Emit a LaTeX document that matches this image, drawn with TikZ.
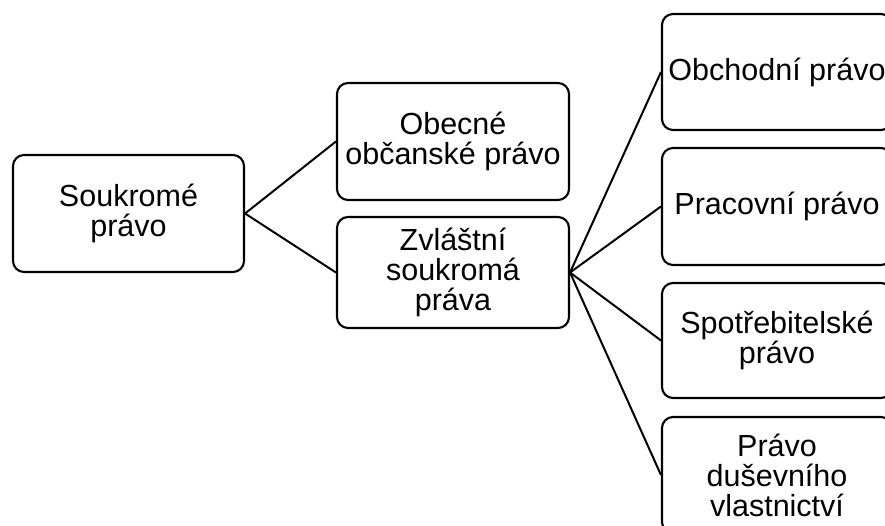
\documentclass[tikz,border=0pt]{standalone}
\usepackage{fontspec}
\setmainfont{Liberation Sans}
\begin{document}
\begin{tikzpicture}[x=1pt,y=-1pt,
  box/.style={draw=black, line width=2.1pt, rounded corners=11pt, inner sep=0pt,
    align=center, font=\fontsize{30.5}{30}\selectfont},
  link/.style={draw=black, line width=2pt}]
\clip (0,0) rectangle (885,526);
\fill[white] (0,0) rectangle (885,526);
\node[box, minimum width=231pt, minimum height=117pt] (sp) at (128.5,213.5) {Soukromé\\právo};
\node[box, minimum width=232pt, minimum height=117pt] (ob) at (453,141.5) {Obecné\\občanské právo};
\node[box, minimum width=232pt, minimum height=111pt] (zv) at (453,272.5) {Zvláštní\\soukromá\\práva};
\node[box, minimum width=230pt, minimum height=116pt] (r1) at (777,72) {Obchodní právo};
\node[box, minimum width=230pt, minimum height=117pt] (r2) at (777,206.5) {Pracovní právo};
\node[box, minimum width=230pt, minimum height=115pt] (r3) at (777,340.5) {Spotřebitelské\\právo};
\node[box, minimum width=230pt, minimum height=116pt] (r4) at (777,475) {Právo\\duševního\\vlastnictví};
\draw[link] (sp.east) -- (ob.west);
\draw[link] (sp.east) -- (zv.west);
\draw[link] (zv.east) -- (r1.west);
\draw[link] (zv.east) -- (r2.west);
\draw[link] (zv.east) -- (r3.west);
\draw[link] (zv.east) -- (r4.west);
\end{tikzpicture}
\end{document}
